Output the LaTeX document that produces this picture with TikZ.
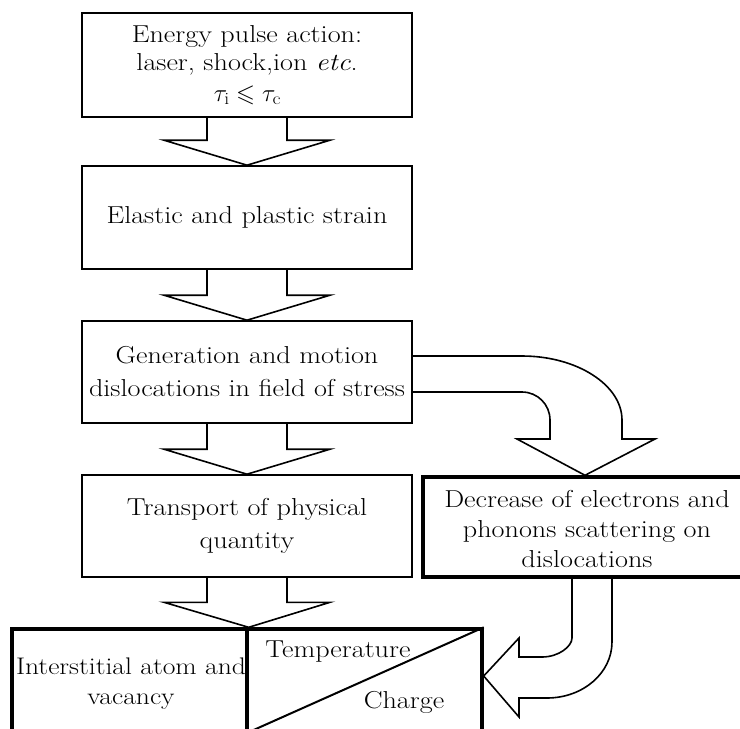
\documentclass[tikz,border=0pt]{standalone}
\usepackage{amsmath, amssymb}
\usepackage{fontspec}
\setmainfont{Latin Modern Roman}[FakeStretch=1.15]
\usetikzlibrary{calc}

\begin{document}
\begin{tikzpicture}[x=1pt, y=-1pt,
    box/.style={draw, line width=1.6pt, rectangle, align=center, inner sep=0pt,
      font=\fontsize{24.5}{33}\selectfont},
    heavybox/.style={box, line width=3.4pt},
    blockline/.style={line width=1.6pt, line join=miter}]
      \clip (0,0) rectangle (740,729);

      % Main chain of boxes
      \node[box, minimum width=330pt, minimum height=104pt] (pulse) at (247,65)
        {Energy pulse action:\\[-5pt] laser, shock,ion \textit{etc}.\\[-2pt] $\tau_{\mathrm{i}}\leqslant\tau_{\mathrm{c}}$};
      \node[box, minimum width=330pt, minimum height=103pt] (strain) at (247,217.5)
        {Elastic and plastic strain};
      \node[box, minimum width=330pt, minimum height=102pt] (generation) at (247,372)
        {Generation and motion\\ dislocations in field of stress};
      \node[box, minimum width=330pt, minimum height=102pt] (transport) at (247,526)
        {Transport of physical\\ quantity};

      % Side box
      \node[heavybox, minimum width=322pt, minimum height=100pt] (decrease) at (584,527) {};
      \node[font=\fontsize{24.5}{30}\selectfont, align=center] (decreasetext) at (587,529)
        {Decrease of electrons and\\ phonons scattering on\\ dislocations};

      % Bottom boxes
      \node[heavybox, minimum width=235pt, minimum height=103pt] (atom) at (129.5,680.5) {};
      \node[heavybox, minimum width=235pt, minimum height=103pt] (field) at (364.5,680.5) {};
      \draw[line width=2pt] (field.south west) -- (field.north east);
      \node[font=\fontsize{24}{30}\selectfont, align=center] (atomtext) at (131,684)
        {Interstitial atom and\\ vacancy};
      \node[font=\fontsize{24.5}{24}\selectfont] (temp) at (338,652) {Temperature};
      \node[font=\fontsize{24.5}{24}\selectfont] (charge) at (404,702) {Charge};

      % Block arrows down the chain
      \foreach \a/\b in {pulse.south/strain.north, strain.south/generation.north,
          generation.south/transport.north, transport.south/atom.north east} {
        \draw[blockline] let \p1=(\a), \p2=(\b) in
          (\x1-40pt,\y1) -- (\x1-40pt,\y2+25pt) -- (\x1-83pt,\y2+25pt) -- (\x2,\y2)
          -- (\x1+83pt,\y2+25pt) -- (\x1+40pt,\y2+25pt) -- (\x1+40pt,\y1);
      }

      % Bent arrow to the side box
      \draw[blockline] ($(generation.east)+(0,-16)$) -- (522,356)
        .. controls (577,356) and (622,385) .. (622,420) -- (622,439) -- (655,439)
        -- (decrease.north -| 585,0) -- (517,439) -- (550,439) -- (550,420)
        .. controls (550,404.5) and (537.5,392) .. (522,392)
        -- ($(generation.east)+(0,20)$);

      % Bent arrow back to the bottom box
      \draw[blockline] (decrease.south -| 612,0) -- (612,642)
        .. controls (612,673) and (583,698) .. (547,698) -- (519,698) -- (519,717)
        -- (field.east |- 0,676) -- (519,638) -- (519,657) -- (542,657)
        .. controls (558.6,657) and (572,646.5) .. (572,638) -- (decrease.south -| 572,0);
    \end{tikzpicture}
\end{document}
